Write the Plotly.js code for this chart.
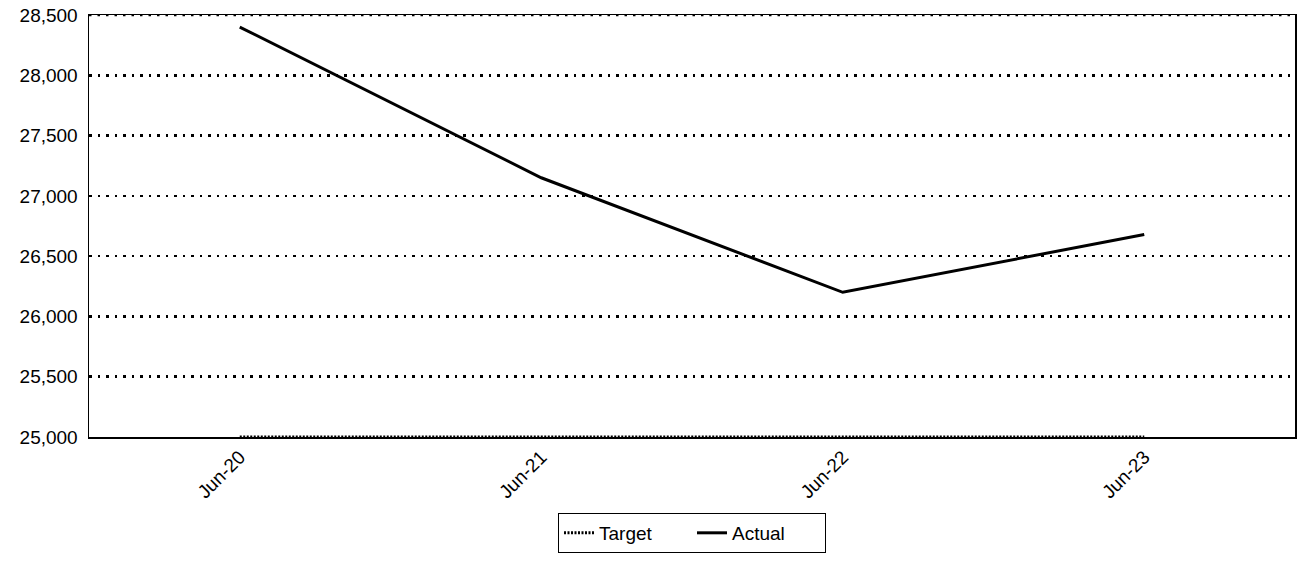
<!DOCTYPE html>
<html>
<head>
<meta charset="utf-8">
<script src="https://cdn.plot.ly/plotly-3.0.1.min.js"></script>
<style>
  html, body { margin: 0; padding: 0; background: #fff; }
  #chart { width: 1303px; height: 586px; }
</style>
</head>
<body>
<div id="chart"></div>
<script>
// Period labels and the two series
const periods = ["Jun-20", "Jun-21", "Jun-22", "Jun-23"];
const target = [25000, 25000, 25000, 25000];
const actual = [28400, 27150, 26200, 26680];
const yTicks = [25000, 25500, 26000, 26500, 27000, 27500, 28000, 28500];

const font = { family: "Liberation Sans, Arial, sans-serif", size: 19, color: "#000" };

const traces = [
  {
    x: periods, y: target, name: "Target", type: "scatter", mode: "lines",
    line: { color: "#000", width: 3, dash: "2px,1.5px" },
    cliponaxis: false
  },
  {
    x: periods, y: actual, name: "Actual", type: "scatter", mode: "lines",
    line: { color: "#000", width: 3 }
  }
];

// dotted grid line along the top edge (hidden by Plotly under the frame line)
const topGrid = {
  type: "line", xref: "paper", x0: 0, x1: 1,
  yref: "y", y0: yTicks[yTicks.length - 1], y1: yTicks[yTicks.length - 1],
  line: { color: "#000", width: 2.5, dash: "2.5px,6px" }, layer: "above"
};

const layout = {
  width: 1303, height: 586,
  margin: { l: 89, r: 8, t: 15, b: 149 },
  paper_bgcolor: "#fff", plot_bgcolor: "#fff",
  font: font,
  showlegend: true,
  legend: {
    orientation: "h", x: 0.5, xanchor: "center", y: -0.18, yanchor: "top",
    bordercolor: "#000", borderwidth: 1, font: font,
    itemwidth: 30, tracegroupgap: 0, entrywidth: 88
  },
  shapes: [topGrid],
  xaxis: {
    type: "category", range: [-0.5, 3.5],
    showgrid: false, zeroline: false,
    showline: true, mirror: true, linecolor: "#000", linewidth: 1.5,
    ticks: "", tickangle: -45, tickfont: font
  },
  yaxis: {
    range: [25000, 28500], tickvals: yTicks, tickformat: ",d",
    showgrid: true, gridcolor: "#000", gridwidth: 2.5, griddash: "2.5px,6px",
    zeroline: false,
    showline: true, mirror: true, linecolor: "#000", linewidth: 1.5,
    ticks: "", tickfont: font, ticklabelstandoff: 6
  }
};

Plotly.newPlot("chart", traces, layout, { staticPlot: true, displayModeBar: false });
</script>
</body>
</html>
